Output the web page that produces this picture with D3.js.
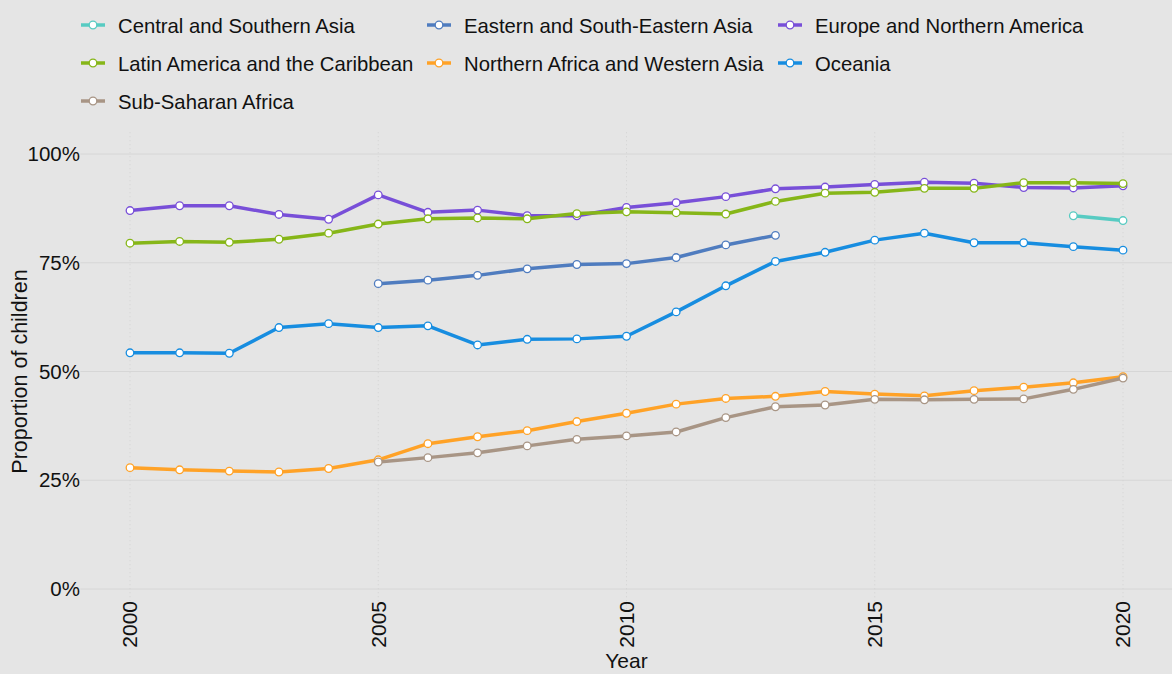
<!DOCTYPE html>
<html>
<head>
<meta charset="utf-8">
<script src="https://cdn.jsdelivr.net/npm/d3@7"></script>
<style>
  html, body { margin: 0; padding: 0; background: #e5e5e5; }
  svg { display: block; font-family: "Liberation Sans", Arial, sans-serif; }
</style>
</head>
<body>
<svg id="chart" width="1172" height="674"></svg>
<script>
// data (proportion of children, %)
var years = d3.range(2000, 2021);
var regions = ["Central and Southern Asia", "Eastern and South-Eastern Asia", "Europe and Northern America",
               "Latin America and the Caribbean", "Northern Africa and Western Asia", "Oceania", "Sub-Saharan Africa"];
var colors = ["#57cbc2", "#4f7cbf", "#784fd8", "#86b618", "#ffa227", "#178de0", "#a89585"];

var centralSouthAsia = [null,null,null,null,null,null,null,null,null,null,null,null,null,null,null,null,null,null,null,85.8,84.7];
var eastSouthEastAsia = [null,null,null,null,null,70.2,71.0,72.1,73.6,74.6,74.8,76.2,79.1,81.3,null,null,null,null,null,null,null];
var europeNorthAmerica = [87.0,88.1,88.1,86.1,85.0,90.6,86.6,87.1,85.8,85.8,87.7,88.8,90.2,92.0,92.4,93.0,93.5,93.3,92.3,92.2,92.7];
var latinAmerica = [79.5,79.9,79.7,80.4,81.8,83.9,85.1,85.3,85.1,86.3,86.7,86.5,86.2,89.1,91.0,91.2,92.1,92.1,93.4,93.4,93.2];
var northAfricaWestAsia = [27.9,27.4,27.1,26.9,27.7,29.7,33.4,35.0,36.4,38.5,40.4,42.5,43.8,44.3,45.4,44.8,44.4,45.6,46.4,47.4,48.8];
var oceania = [54.3,54.3,54.2,60.1,61.0,60.1,60.5,56.1,57.4,57.5,58.1,63.7,69.7,75.3,77.4,80.2,81.8,79.6,79.6,78.7,77.9];
var subSaharanAfrica = [null,null,null,null,null,29.2,30.2,31.3,32.9,34.4,35.2,36.1,39.4,41.9,42.3,43.6,43.5,43.6,43.7,45.9,48.5];

var seriesValues = [centralSouthAsia, eastSouthEastAsia, europeNorthAmerica, latinAmerica,
                    northAfricaWestAsia, oceania, subSaharanAfrica];
var yTicks = [0, 25, 50, 75, 100];
var xTicks = [2000, 2005, 2010, 2015, 2020];

var svg = d3.select("#chart");
var W = 1172, H = 674;

svg.append("rect").attr("width", W).attr("height", H).attr("fill", "#e5e5e5");

// scales (with 5% padding like the panel has)
var x = d3.scaleLinear().domain([1999, 2021]).range([80.35, 1172.65]);
var y = d3.scaleLinear().domain([-5, 105]).range([610.75, 132.25]);

// grid
var grid = svg.append("g").attr("class", "grid");
grid.selectAll("line.h").data(yTicks).enter().append("line")
    .attr("class", "h")
    .attr("x1", x(1999)).attr("x2", W)
    .attr("y1", function(d) { return y(d); }).attr("y2", function(d) { return y(d); })
    .attr("stroke", "#d6d6d6").attr("stroke-width", 1);
grid.selectAll("line.v").data(xTicks).enter().append("line")
    .attr("class", "v")
    .attr("x1", function(d) { return x(d); }).attr("x2", function(d) { return x(d); })
    .attr("y1", y(105)).attr("y2", y(-5))
    .attr("stroke", "#d2d2d2").attr("stroke-width", 1).attr("stroke-dasharray", "1,3");

// y axis labels
svg.selectAll("text.ytick").data(yTicks).enter().append("text")
    .attr("class", "ytick")
    .attr("x", 80).attr("y", function(d) { return y(d); })
    .attr("dy", "0.35em")
    .attr("text-anchor", "end")
    .attr("font-size", 20.5).attr("fill", "#111")
    .text(function(d) { return d + "%"; });

// x axis labels (rotated)
svg.selectAll("text.xtick").data(xTicks).enter().append("text")
    .attr("class", "xtick")
    .attr("transform", function(d) { return "translate(" + x(d) + ",601) rotate(-90)"; })
    .attr("dy", "0.35em")
    .attr("text-anchor", "end")
    .attr("font-size", 21).attr("fill", "#111")
    .text(function(d) { return d; });

// axis titles
svg.append("text")
    .attr("x", x(2010)).attr("y", 668)
    .attr("text-anchor", "middle")
    .attr("font-size", 21).attr("fill", "#111")
    .text("Year");
svg.append("text")
    .attr("transform", "translate(27," + y(50) + ") rotate(-90)")
    .attr("text-anchor", "middle")
    .attr("font-size", 21.5).attr("fill", "#111")
    .text("Proportion of children");

// lines
var line = d3.line()
    .defined(function(d) { return d[1] != null; })
    .x(function(d) { return x(d[0]); })
    .y(function(d) { return y(d[1]); });

var plot = svg.append("g").attr("class", "plot");
seriesValues.forEach(function(vals, i) {
    var pts = years.map(function(yr, j) { return [yr, vals[j]]; });
    var g = plot.append("g");
    g.append("path")
        .attr("d", line(pts))
        .attr("fill", "none")
        .attr("stroke", colors[i])
        .attr("stroke-width", 3.5)
        .attr("stroke-linejoin", "round");
    g.selectAll("circle").data(pts.filter(function(d) { return d[1] != null; })).enter()
        .append("circle")
        .attr("cx", function(d) { return x(d[0]); })
        .attr("cy", function(d) { return y(d[1]); })
        .attr("r", 3.8)
        .attr("fill", "#fff")
        .attr("stroke", colors[i])
        .attr("stroke-width", 1.3);
});

// legend
var colX = [81, 427, 778];
var rowY = [25, 63, 101];
var legend = svg.append("g").attr("class", "legend");
regions.forEach(function(name, i) {
    var lx = colX[i % 3], ly = rowY[Math.floor(i / 3)];
    var g = legend.append("g").attr("transform", "translate(" + lx + "," + ly + ")");
    g.append("line").attr("x1", 0).attr("x2", 24).attr("y1", 0).attr("y2", 0)
        .attr("stroke", colors[i]).attr("stroke-width", 3.5);
    g.append("circle").attr("cx", 12).attr("cy", 0).attr("r", 3.8)
        .attr("fill", "#fff").attr("stroke", colors[i]).attr("stroke-width", 1.3);
    g.append("text").attr("x", 37).attr("y", 1).attr("dy", "0.35em")
        .attr("font-size", 20.3).attr("fill", "#111")
        .text(name);
});
</script>
</body>
</html>
